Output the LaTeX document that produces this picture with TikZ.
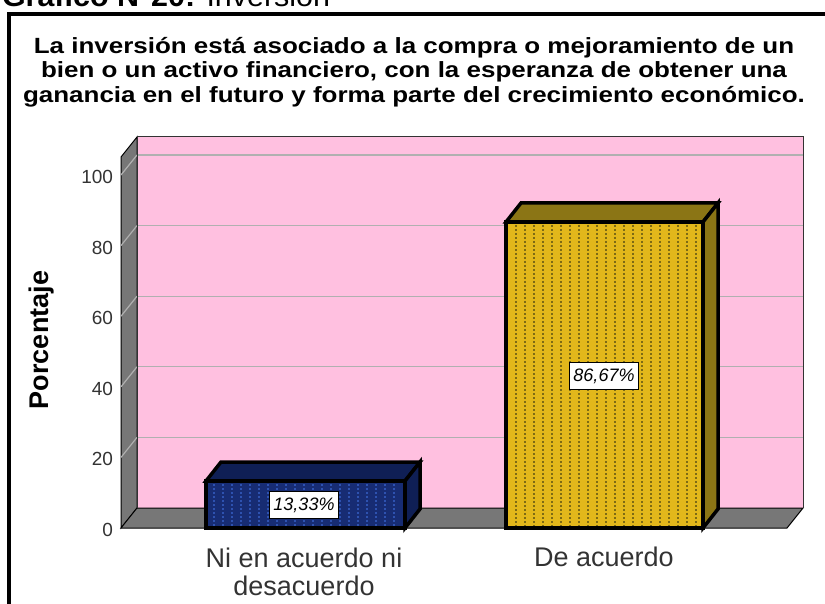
\documentclass[tikz,border=0pt]{standalone}
\usepackage{fontspec}
\setmainfont{Liberation Sans}
\newlength{\du}
\setlength{\du}{1pt}

\begin{document}
\begin{tikzpicture}[x=\du,y=-\du,
  gridline/.style={draw=gridgray,line width=1.2\du},
  walledge/.style={draw=black,line width=1\du,fill=wallgray},
  barline/.style={draw=black,line width=3.5\du,line join=miter},
  valuebox/.style={draw=black,line width=0.8\du,fill=white,inner xsep=4\du,inner ysep=6\du,font=\fontsize{18}{20}\selectfont\itshape},
  ticktext/.style={anchor=east,inner sep=0pt,outer sep=0pt,text=labelcolor,font=\fontsize{19}{22}\selectfont},
  cattext/.style={anchor=base,inner sep=0pt,outer sep=0pt,text=labelcolor,font=\fontsize{27}{30}\selectfont},
  titletext/.style={anchor=base,inner sep=0pt,outer sep=0pt,xscale=1.18,font=\bfseries\fontsize{22}{24}\selectfont}]
\definecolor{labelcolor}{rgb}{0.200000, 0.200000, 0.200000}
\definecolor{wallpink}{rgb}{1.000000, 0.752941, 0.878431}
\definecolor{wallgray}{rgb}{0.466667, 0.466667, 0.466667}
\definecolor{gridgray}{rgb}{0.690196, 0.690196, 0.690196}
\definecolor{navyfront}{rgb}{0.090196, 0.172549, 0.450980}
\definecolor{navytop}{rgb}{0.058824, 0.121569, 0.333333}
\definecolor{navydot}{rgb}{0.180000, 0.320000, 0.690000}
\definecolor{goldfront}{rgb}{0.886275, 0.717647, 0.105882}
\definecolor{goldtop}{rgb}{0.545098, 0.458824, 0.082353}
\definecolor{golddot}{rgb}{0.490196, 0.415686, 0.078431}
\useasboundingbox (0,0) rectangle (825,604);
\clip (0,0) rectangle (825,604);
% caption above the frame
\node[anchor=base west,inner sep=0pt,outer sep=0pt,xscale=1.05,font=\fontsize{29}{32}\selectfont] (caption) at (2,7) {\textbf{Gráfico N°20:} Inversión};
% frame
\draw[line width=4\du] (9,640) -- (9,14) -- (860,14);
% chart title
\node[titletext] (title1) at (414,54) {La inversión está asociado a la compra o mejoramiento de un};
\node[titletext] (title2) at (414,78) {bien o un activo financiero, con la esperanza de obtener una};
\node[titletext] (title3) at (414,103) {ganancia en el futuro y forma parte del crecimiento económico.};
% back wall
\fill[wallpink] (137,137) rectangle (803,508);
% left wall and floor
\filldraw[walledge] (137,137) -- (137,508) -- (121,528) -- (121,157) -- cycle;
\filldraw[walledge] (137,508) -- (803,508) -- (787,528) -- (121,528) -- cycle;
% grid
\foreach \v in {20,40,60,80,100} {
  \pgfmathsetmacro{\yb}{508-3.53*\v}
  \pgfmathsetmacro{\yf}{528-3.53*\v}
  \draw[gridline] (137,\yb) -- (803,\yb);
  \draw[gridline] (121,\yf) -- (137,\yb);
}
\draw[draw=labelcolor,line width=1\du] (137,508) -- (137,137) -- (803,137) -- (803,508);
% ticks
\foreach \v in {0,20,40,60,80,100} {
  \pgfmathsetmacro{\yt}{530-3.53*\v}
  \node[ticktext] (tick\v) at (113,\yt) {\v};
}
\node[rotate=90,inner sep=0pt,font=\bfseries\fontsize{27}{30}\selectfont] (ylabel) at (42,340) {Porcentaje};
% bar Ni en acuerdo ni desacuerdo
\filldraw[barline,fill=navytop] (206,481) -- (221,462) -- (420,462) -- (405,481) -- cycle;
\filldraw[barline,fill=navytop] (405,481) -- (420,462) -- (420,509) -- (405,528) -- cycle;
\fill[navyfront] (206,481) rectangle (405,528);
\foreach \xx in {214,223,...,400}
  \draw[navydot,line width=1.3\du,dash pattern=on 2\du off 2\du] (\xx,484) -- (\xx,526);
\draw[barline] (206,481) rectangle (405,528);
% bar De acuerdo
\filldraw[barline,fill=goldtop] (506,222) -- (521,203) -- (718,203) -- (703,222) -- cycle;
\filldraw[barline,fill=goldtop] (703,222) -- (718,203) -- (718,509) -- (703,528) -- cycle;
\fill[goldfront] (506,222) rectangle (703,528);
\foreach \xx in {516,525,...,700}
  \draw[golddot,line width=1.3\du,dash pattern=on 2\du off 2\du] (\xx,225) -- (\xx,526);
\draw[barline] (506,222) rectangle (703,528);
% value labels
\node[valuebox] (val1) at (304,505) {13,33\%};
\node[valuebox] (val2) at (604,376) {86,67\%};
% category labels
\node[cattext] (cat1a) at (304,567) {Ni en acuerdo ni};
\node[cattext] (cat1b) at (304,595) {desacuerdo};
\node[cattext] (cat2) at (604,566) {De acuerdo};
\end{tikzpicture}
\end{document}
